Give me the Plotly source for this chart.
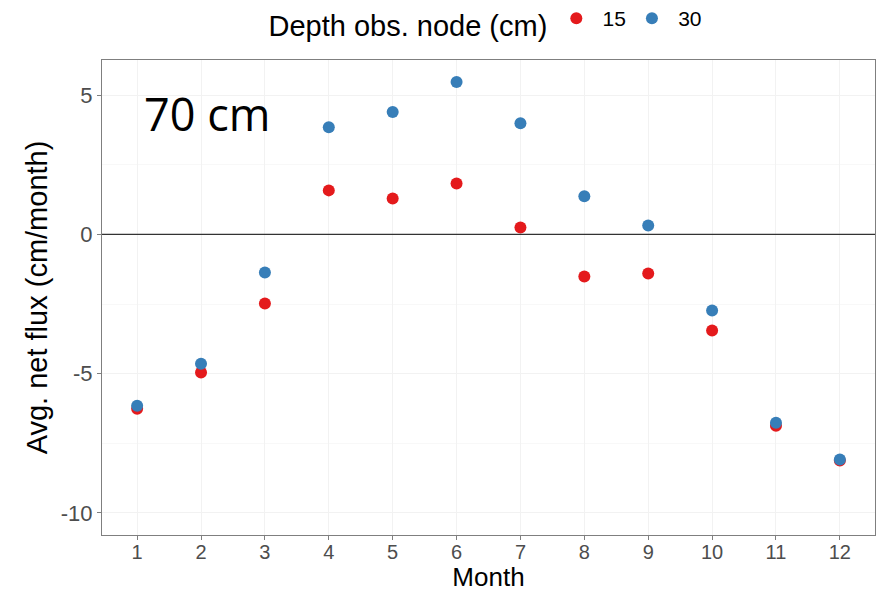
import plotly.graph_objects as go

months = [1, 2, 3, 4, 5, 6, 7, 8, 9, 10, 11, 12]
flux_15 = [-6.26, -4.96, -2.48, 1.58, 1.29, 1.83, 0.25, -1.51, -1.40, -3.45, -6.87, -8.12]
flux_30 = [-6.15, -4.64, -1.37, 3.85, 4.39, 5.47, 3.99, 1.37, 0.32, -2.73, -6.76, -8.08]
y_ticks = [-10, -5, 0, 5]
series_names = ["15", "30"]
series_colors = ["#E41A1C", "#377EB8"]

fig = go.Figure()
for name, vals, col in zip(series_names, [flux_15, flux_30], series_colors):
    fig.add_trace(go.Scatter(x=months, y=vals, mode="markers", name="\u2005" + name,
                             marker=dict(color=col, size=12, line=dict(width=0))))

fig.add_hline(y=0, line=dict(color="#333333", width=1.3))

fig.add_annotation(text="70 cm", x=0.052, y=0.955, xref="paper", yref="paper",
                   xanchor="left", yanchor="top", showarrow=False,
                   font=dict(family="Open Sans", size=45, color="black"))

fig.update_layout(
    width=887, height=592,
    margin=dict(l=102, r=12, t=60, b=57),
    plot_bgcolor="white", paper_bgcolor="white",
    font=dict(family="Liberation Sans, Arial", color="#4d4d4d"),
    legend=dict(orientation="h", xref="container", yref="container",
                x=0.549, xanchor="center", y=1 - 22 / 592, yanchor="middle",
                bgcolor="rgba(0,0,0,0)",
                title=dict(text="Depth obs. node (cm)", font=dict(size=29, color="black"), side="left"),
                font=dict(size=21, color="black"), itemwidth=32, itemsizing="trace"),
    xaxis=dict(range=[0.45, 12.55], tickvals=months, ticktext=[str(m) for m in months],
               showgrid=True, gridcolor="#f2f2f2", gridwidth=1, automargin=False,
               showline=True, linecolor="#7f7f7f", mirror=True, linewidth=1,
               ticks="outside", ticklen=4, tickcolor="#7f7f7f", ticklabelstandoff=-5,
               tickfont=dict(size=20, color="#4d4d4d"), zeroline=False,
               title=dict(text="Month", font=dict(size=26, color="black"), standoff=14)),
    yaxis=dict(range=[-10.79, 6.26], tickvals=y_ticks, ticktext=[str(v) for v in y_ticks],
               showgrid=True, gridcolor="#f2f2f2", gridwidth=1, automargin=False,
               minor=dict(dtick=2.5, showgrid=True, gridcolor="#f8f8f8"),
               showline=True, linecolor="#7f7f7f", mirror=True, linewidth=1,
               ticks="outside", ticklen=4, tickcolor="#7f7f7f",
               tickfont=dict(size=22, color="#4d4d4d"), zeroline=False,
               title=dict(text="Avg. net flux (cm/month)", font=dict(size=29, color="black"), standoff=4)),
)

fig.write_html("out.html")
